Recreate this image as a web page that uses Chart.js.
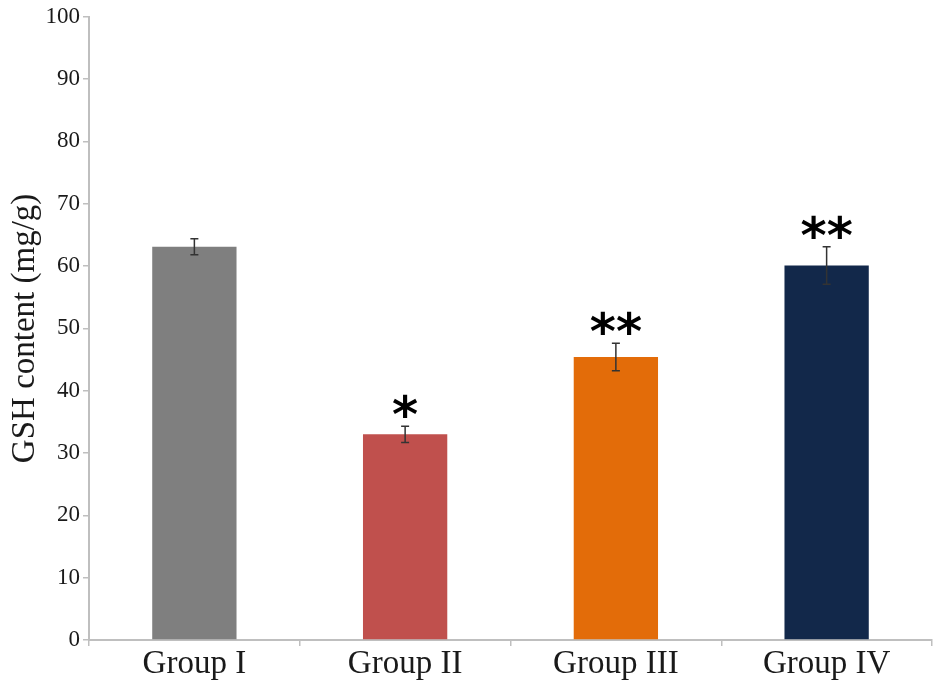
<!DOCTYPE html>
<html>
<head>
<meta charset="utf-8">
<script src="https://cdn.jsdelivr.net/npm/chart.js@4"></script>
<style>
	html, body { margin: 0; padding: 0; background: #fff; }
	#wrap { width: 945px; height: 692px; }
</style>
</head>
<body>
<div id="wrap"><canvas id="gshChart" width="945" height="692"></canvas></div>
<script>
// data
const groups = ['Group I', 'Group II', 'Group III', 'Group IV'];
const gshValues = [63.1, 33.0, 45.4, 60.1];
const gshErrors = [1.3, 1.3, 2.2, 3.0];
const stars = ['', '*', '**', '**'];
const barColors = ['#7f7f7f', '#c0504d', '#e36c09', '#12284a'];
const yTicks = [0, 10, 20, 30, 40, 50, 60, 70, 80, 90, 100];

const axisGray = '#bfbfbf';
const textColor = '#1a1a1a';

// error bars + significance marks
const errorBarPlugin = {
	id: 'errorBars',
	afterDatasetsDraw(chart) {
		const ctx = chart.ctx;
		const x = chart.scales.x;
		const y = chart.scales.y;
		ctx.save();
		gshValues.forEach(function (v, i) {
			const cx = x.getPixelForValue(i);
			const top = y.getPixelForValue(v + gshErrors[i]);
			const bot = y.getPixelForValue(v - gshErrors[i]);
			ctx.strokeStyle = '#333';
			ctx.lineWidth = 1.5;
			ctx.beginPath();
			ctx.moveTo(cx, top); ctx.lineTo(cx, bot);
			ctx.moveTo(cx - 4, top); ctx.lineTo(cx + 4, top);
			ctx.moveTo(cx - 4, bot); ctx.lineTo(cx + 4, bot);
			ctx.stroke();
			if (stars[i]) {
				ctx.fillStyle = '#000';
				ctx.font = 'bold 50px "DejaVu Sans"';
				ctx.textAlign = 'center';
				ctx.textBaseline = 'alphabetic';
				ctx.fillText(stars[i], cx, top + 6);
			}
		});
		ctx.restore();
	}
};

var ctx = document.getElementById('gshChart').getContext('2d');

var gshChart = new Chart(ctx, {
	type: 'bar',
	data: {
		labels: groups,
		datasets: [
			{
				data: gshValues,
				backgroundColor: barColors,
				borderWidth: 0,
				barPercentage: 0.4,
				categoryPercentage: 1.0,
			},
		],
	},
	options: {
		responsive: false,
		animation: false,
		layout: { padding: { top: 16, right: 13, left: 0, bottom: 0 } },
		plugins: {
			legend: { display: false },
			tooltip: { enabled: false },
		},
		scales: {
			x: {
				grid: { drawOnChartArea: false, color: axisGray, tickLength: 6, lineWidth: 1.5 },
				border: { color: axisGray, width: 2 },
				ticks: {
					color: textColor,
					font: { family: '"Liberation Serif"', size: 33 },
					padding: -1,
					maxRotation: 0,
				},
				afterFit: function (scale) { scale.height = 52; },
			},
			y: {
				min: 0,
				max: 100,
				afterBuildTicks: function (scale) {
					scale.ticks = yTicks.map(function (v) { return { value: v }; });
				},
				grid: { drawOnChartArea: false, color: axisGray, tickLength: 6, lineWidth: 1.5 },
				border: { color: axisGray, width: 2 },
				ticks: {
					color: textColor,
					font: { family: '"Liberation Serif"', size: 23 },
					padding: 3,
				},
				title: {
					display: true,
					text: 'GSH content (mg/g)',
					color: textColor,
					font: { family: '"Liberation Serif"', size: 33 },
					padding: { top: 6, bottom: 0 },
				},
				afterFit: function (scale) { scale.width = 89; },
			},
		},
	},
	plugins: [errorBarPlugin],
});
</script>
</body>
</html>
